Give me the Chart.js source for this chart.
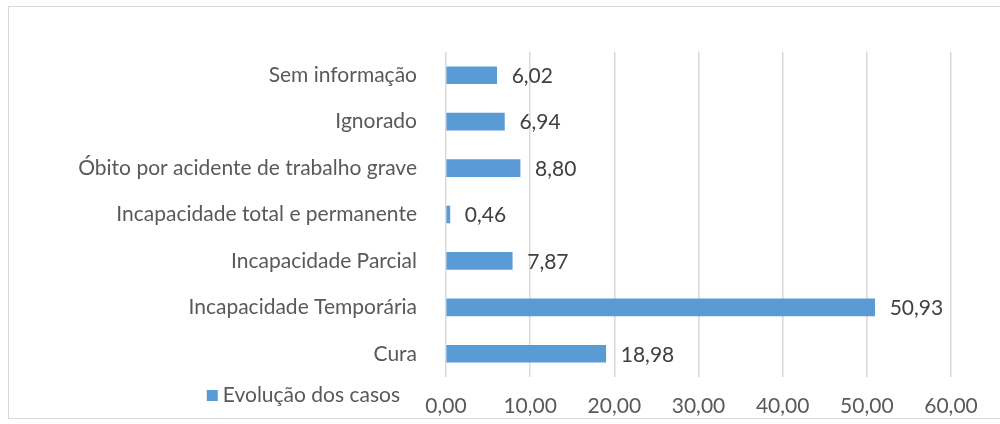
<!DOCTYPE html>
<html>
<head>
<meta charset="utf-8">
<script src="https://cdn.jsdelivr.net/npm/chart.js@4/dist/chart.umd.min.js"></script>
<style>
  body { margin: 0; background: #fff; }
  #wrap { position: relative; width: 1000px; height: 424px; }
  #frame { position: absolute; left: 8px; top: 6px; width: 1000px; height: 413px; border: 1px solid #d9d9d9; box-sizing: border-box; }
  canvas { position: absolute; left: 0; top: 0; }
</style>
</head>
<body>
<div id="wrap">
  <div id="frame"></div>
  <canvas id="myChart" width="1000" height="424"></canvas>
</div>
<script>
const categories = [
  "Sem informação",
  "Ignorado",
  "Óbito por acidente de trabalho grave",
  "Incapacidade total e permanente",
  "Incapacidade Parcial",
  "Incapacidade Temporária",
  "Cura",
];
const values = [6.02, 6.94, 8.8, 0.46, 7.87, 50.93, 18.98];
const seriesName = "Evolução dos casos";
const xTicks = [0, 10, 20, 30, 40, 50, 60];

const barColor = "#5b9bd5";
const textColor = "#595959";
const fontFamily = "Lato, 'Open Sans', sans-serif";
const fontSize = 21;

// comma decimals like the original
const fmt = (v) => v.toFixed(2).replace(".", ",");

// value labels next to each bar
const valueLabels = {
  id: "valueLabels",
  afterDatasetsDraw(chart) {
    const { ctx } = chart;
    const meta = chart.getDatasetMeta(0);
    ctx.save();
    ctx.font = fontSize + "px " + fontFamily;
    ctx.fillStyle = "#404040";
    ctx.textBaseline = "middle";
    ctx.textAlign = "left";
    meta.data.forEach((bar, i) => {
      ctx.fillText(fmt(values[i]), bar.x + 15, bar.y + 1);
    });
    ctx.restore();
  },
};

// legend sits left of the x axis labels
const sideLegend = {
  id: "sideLegend",
  afterDraw(chart) {
    const { ctx, chartArea } = chart;
    ctx.save();
    ctx.font = fontSize + "px " + fontFamily;
    ctx.textBaseline = "middle";
    ctx.textAlign = "right";
    const right = chartArea.left - 46;
    const y = chartArea.bottom + 18;
    ctx.fillStyle = textColor;
    ctx.fillText(seriesName, right, y);
    const w = ctx.measureText(seriesName).width;
    ctx.fillStyle = barColor;
    ctx.fillRect(right - w - 16, y - 5, 11, 11);
    ctx.restore();
  },
};

const config = {
  type: "bar",
  data: {
    labels: categories,
    datasets: [
      {
        label: seriesName,
        data: values,
        backgroundColor: barColor,
        barThickness: 17,
      },
    ],
  },
  options: {
    indexAxis: "y",
    responsive: false,
    animation: false,
    layout: {
      padding: { top: 52, right: 49, bottom: 5, left: 0 },
    },
    plugins: {
      legend: { display: false },
      tooltip: { enabled: false },
    },
    scales: {
      x: {
        min: 0,
        max: 60,
        afterBuildTicks: (axis) => {
          axis.ticks = xTicks.map((v) => ({ value: v }));
        },
        afterFit: (axis) => {
          axis.height = 42;
        },
        border: { display: false },
        grid: { color: "#d9d9d9", lineWidth: 1.5, drawTicks: false },
        ticks: {
          color: textColor,
          font: { family: fontFamily, size: fontSize },
          padding: 17,
          maxRotation: 0,
          callback: (v) => fmt(v),
        },
      },
      y: {
        afterFit: (axis) => {
          axis.width = 446;
        },
        border: { display: false },
        grid: { display: false },
        ticks: {
          color: textColor,
          font: { family: fontFamily, size: fontSize },
          padding: 21,
        },
      },
    },
  },
  plugins: [valueLabels, sideLegend],
};

const myChart = new Chart(document.getElementById("myChart"), config);
</script>
</body>
</html>
